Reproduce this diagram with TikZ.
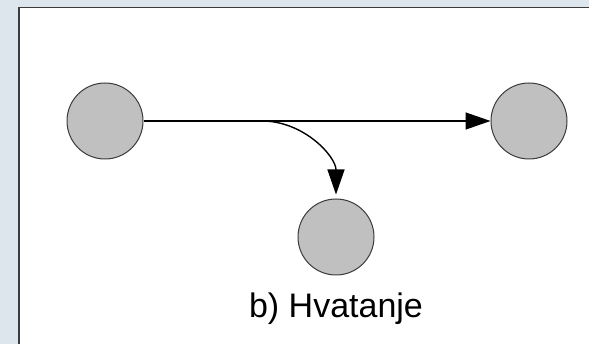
\documentclass[tikz,border=0pt]{standalone}
\usepackage{fontspec}
\setmainfont{Liberation Sans}
\usetikzlibrary{arrows.meta}
\definecolor{panelbg}{HTML}{DDE6EC}
\definecolor{edgegray}{HTML}{3C3C3C}
\definecolor{dotgray}{HTML}{C0C0C0}
\tikzset{
  dot/.style={circle, draw=edgegray, line width=1pt, fill=dotgray,
    minimum size=76pt, inner sep=0pt},
  flow/.style={line width=1.4pt, -{Triangle[length=25pt,width=17pt]}}
}
\begin{document}
\begin{tikzpicture}[x=1pt,y=-1pt]
      \useasboundingbox (0,0) rectangle (589,344);
      \fill[panelbg] (0,0) rectangle (589,344);
      \fill[white] (19,7.5) rectangle (589,344);
      \draw[edgegray, line width=1.5pt] (19,344) -- (19,7.5) -- (589,7.5);
      \draw
        (105,121) node[dot] (src){}
        (529,121) node[dot] (dst){}
        (336,237) node[dot] (tap){}
        (336,309) node[font=\fontsize{34}{40}\selectfont] (cap){b) Hvatanje};
      \coordinate (split) at (262,121);
      \begin{scope}[flow]
        \draw (src) -- (dst);
        \draw[shorten >=4pt] (split) to[out=0,in=90] (tap);
      \end{scope}
    \end{tikzpicture}
\end{document}
